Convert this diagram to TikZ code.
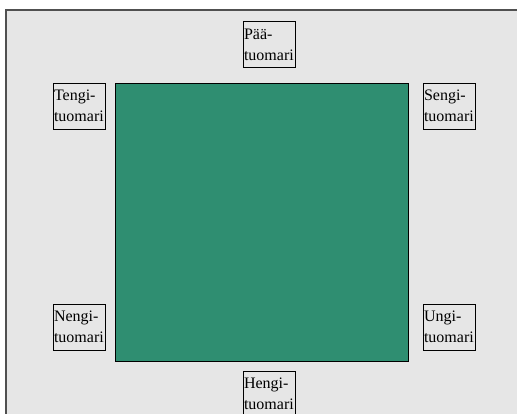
\documentclass[tikz,border=0pt]{standalone}
\usepackage{fontspec}
\setmainfont{Liberation Serif}
\usepackage{tikz}
\usetikzlibrary{positioning}
\usepackage{xcolor}
\definecolor{MatGreen}{HTML}{2F8E71}
\definecolor{FloorGray}{HTML}{E6E6E6}
\definecolor{FrameGray}{HTML}{505050}
\tikzset{
  judge node/.style={draw=black,fill=FloorGray,line width=0.8pt,align=left,
    text width=50pt,inner sep=1pt,minimum height=46pt,
    font=\fontsize{16}{21}\selectfont},
  mat area/.style={draw=black,fill=MatGreen,line width=0.8pt}
}
\begin{document}
\begin{tikzpicture}[x=1pt,y=-1pt]
  \useasboundingbox (0,0) rectangle (517,414);
  \fill[FloorGray] (6,10) rectangle (517,414);
  \draw[FrameGray,line width=1.5pt] (6,414) -- (6,10) -- (517,10);
  % competition area
  \draw[mat area] (115,83) rectangle (408,361);
  % judges
  \node[judge node] (paa) at (269,44.5) {Pää-\\tuomari};
  \node[judge node] (tengi) at (79,106) {Tengi-\\tuomari};
  \node[judge node] (sengi) at (449,106) {Sengi-\\tuomari};
  \node[judge node] (nengi) at (79,327) {Nengi-\\tuomari};
  \node[judge node] (ungi) at (449,327) {Ungi-\\tuomari};
  \node[judge node] (hengi) at (269,394) {Hengi-\\tuomari};
\end{tikzpicture}
\end{document}
